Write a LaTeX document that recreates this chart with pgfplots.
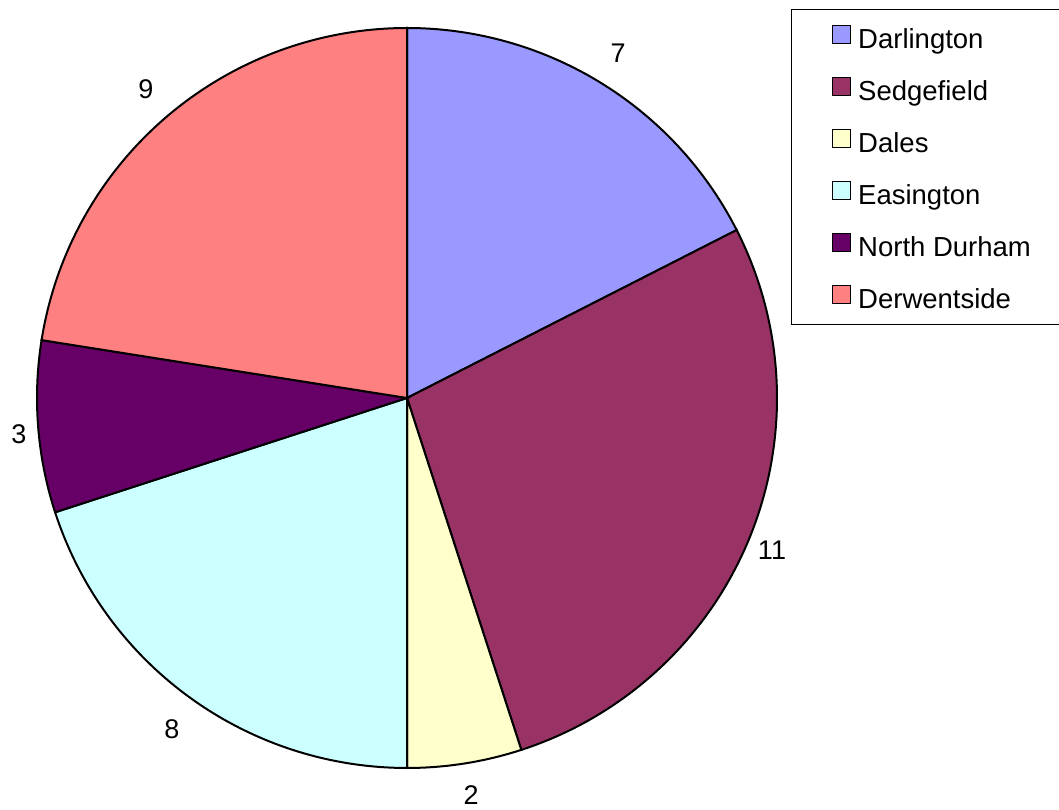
\documentclass[border=0pt]{standalone}
\usepackage{pgfplots}
\pgfplotsset{compat=1.18}
\usepackage{fontspec}
\setmainfont{Liberation Sans}
\definecolor{cDar}{HTML}{9999FF}
\definecolor{cSed}{HTML}{993366}
\definecolor{cDal}{HTML}{FFFFCC}
\definecolor{cEas}{HTML}{CCFFFF}
\definecolor{cNor}{HTML}{660066}
\definecolor{cDer}{HTML}{FF8080}
% values: Darlington 7, Sedgefield 11, Dales 2, Easington 8, North Durham 3, Derwentside 9 (total 40)
\def\cx{407}\def\cy{412}\def\R{370}
\begin{document}
\begin{tikzpicture}
\useasboundingbox (0,0) rectangle (1059pt,810pt);
% cumulative angles (clockwise from 90 deg), 360/40 = 9 deg per unit
\pgfmathsetmacro\aA{90}
\pgfmathsetmacro\aB{\aA-7*9}
\pgfmathsetmacro\aC{\aB-11*9}
\pgfmathsetmacro\aD{\aC-2*9}
\pgfmathsetmacro\aE{\aD-8*9}
\pgfmathsetmacro\aF{\aE-3*9}
\pgfmathsetmacro\aG{\aF-9*9}
\begin{axis}[
  at={(0,0)}, anchor=origin,
  width=1059pt, height=810pt, scale only axis,
  xmin=0, xmax=1059, ymin=0, ymax=810,
  axis lines=none, clip=false,
  legend style={at={(axis cs:832,785)}, anchor=north west, draw=none, fill=none,
    font=\fontsize{27.5}{31}\selectfont, inner xsep=0pt, inner ysep=0pt,
    row sep=22.5pt, cells={anchor=west},
    /tikz/every odd column/.append style={column sep=7pt},
    nodes={inner sep=0pt, text height=20pt, text depth=6pt}},
  legend image code/.code={\draw[#1, line width=1pt] (0pt,-2pt) rectangle (18pt,16pt);},
  every axis plot/.append style={draw=black, line width=2pt, samples=90, variable=\t},
]
\draw[line width=1pt, black] (axis cs:791,800) rectangle (axis cs:1080,485);
\addplot[fill=cDar, domain=\aB:\aA] ({\cx+\R*cos(\t)},{\cy+\R*sin(\t)}) -- (axis cs:\cx,\cy) -- cycle;
\addplot[fill=cSed, domain=\aC:\aB] ({\cx+\R*cos(\t)},{\cy+\R*sin(\t)}) -- (axis cs:\cx,\cy) -- cycle;
\addplot[fill=cDal, domain=\aD:\aC] ({\cx+\R*cos(\t)},{\cy+\R*sin(\t)}) -- (axis cs:\cx,\cy) -- cycle;
\addplot[fill=cEas, domain=\aE:\aD] ({\cx+\R*cos(\t)},{\cy+\R*sin(\t)}) -- (axis cs:\cx,\cy) -- cycle;
\addplot[fill=cNor, domain=\aF:\aE] ({\cx+\R*cos(\t)},{\cy+\R*sin(\t)}) -- (axis cs:\cx,\cy) -- cycle;
\addplot[fill=cDer, domain=\aG:\aF] ({\cx+\R*cos(\t)},{\cy+\R*sin(\t)}) -- (axis cs:\cx,\cy) -- cycle;
\legend{Darlington,Sedgefield,Dales,Easington,North Durham,Derwentside}
\begin{scope}[every node/.style={font=\fontsize{27}{31}\selectfont}]
\node at (axis cs:618,757) {7};
\node at (axis cs:772,260) {11};
\node at (axis cs:471,15) {2};
\node at (axis cs:172,81) {8};
\node at (axis cs:19,376) {3};
\node at (axis cs:146,721) {9};
\end{scope}
\end{axis}
\end{tikzpicture}
\end{document}
